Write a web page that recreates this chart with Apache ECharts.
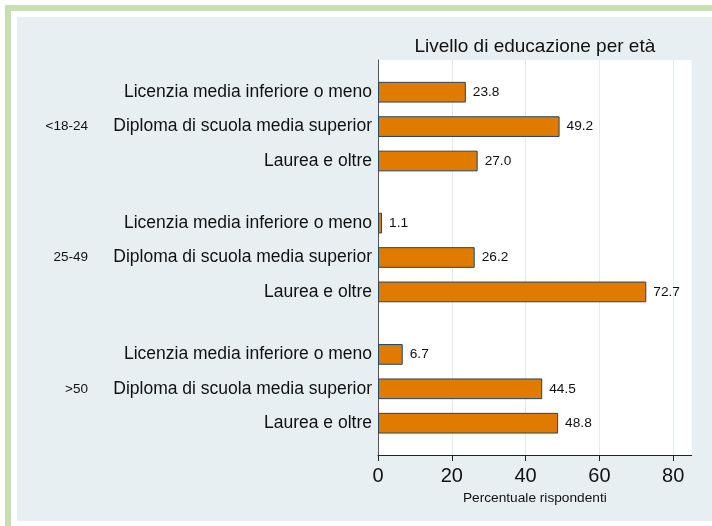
<!DOCTYPE html>
<html>
<head>
<meta charset="utf-8">
<script src="https://cdn.jsdelivr.net/npm/echarts@6/dist/echarts.min.js"></script>
<style>
html,body{margin:0;padding:0;background:#fff;width:712px;height:526px;overflow:hidden;}
#frame{position:absolute;left:5px;top:5px;width:707px;height:521px;border-left:6px solid #c6e0b4;border-top:6px solid #c6e0b4;box-sizing:border-box;}
#panel{position:absolute;left:17px;top:17px;width:695px;height:504px;background:#e8eff2;}
#chart{position:absolute;left:0;top:0;width:712px;height:526px;}
</style>
</head>
<body>
<div id="frame"></div>
<div id="panel"></div>
<div id="chart"></div>
<script>
const groups = ['<18-24', '25-49', '>50'];
const levels = ['Licenzia media inferiore o meno', 'Diploma di scuola media superior', 'Laurea e oltre'];
const values18to24 = [23.8, 49.2, 27.0];
const values25to49 = [1.1, 26.2, 72.7];
const values50plus = [6.7, 44.5, 48.8];
const xTicks = [0, 20, 40, 60, 80];
const xMax = 85;
const groupValues = [values18to24, values25to49, values50plus];

const plotLeft = 378, plotTop = 60, plotW = 313.7, plotH = 395;
const groupTops = [75, 205.9, 337.2];
const groupH = 103.2;
const FONT = 'Liberation Sans, Arial, sans-serif';

const grid = [{left: plotLeft, top: plotTop, width: plotW, height: plotH, show: true, backgroundColor: '#ffffff', borderWidth: 0}];
const xAxis = [{
  gridIndex: 0, type: 'value', min: 0, max: xMax, interval: 20,
  axisLine: {show: true, lineStyle: {color: '#222', width: 1}},
  axisTick: {show: true, length: 6, lineStyle: {color: '#222'}, customValues: xTicks},
  axisLabel: {fontSize: 20, color: '#111', fontFamily: FONT, margin: 11, customValues: xTicks},
  splitLine: {show: true, lineStyle: {color: '#e1ebf0', width: 1}},
  name: 'Percentuale rispondenti', nameLocation: 'middle', nameGap: 26,
  nameTextStyle: {fontSize: 13.7, color: '#111', fontFamily: FONT}
}];
const yAxis = [{
  gridIndex: 0, type: 'value', min: 0, max: 1, position: 'left',
  axisLine: {show: true, lineStyle: {color: '#555', width: 1}},
  axisTick: {show: false}, axisLabel: {show: false}, splitLine: {show: false}
}];
const series = [];

groups.forEach((g, i) => {
  const gi = i + 1;
  grid.push({left: plotLeft, top: groupTops[i], width: plotW, height: groupH, show: false});
  xAxis.push({gridIndex: gi, type: 'value', min: 0, max: xMax, show: false});
  const yMain = yAxis.length;
  yAxis.push({
    gridIndex: gi, type: 'category', data: levels, inverse: true, position: 'left',
    axisLine: {show: false}, axisTick: {show: false}, splitLine: {show: false},
    axisLabel: {fontSize: 17.5, color: '#111', fontFamily: FONT, margin: 6}
  });
  yAxis.push({
    gridIndex: gi, type: 'category', data: ['', g, ''], inverse: true, position: 'left', offset: 282,
    axisLine: {show: false}, axisTick: {show: false}, splitLine: {show: false},
    axisLabel: {fontSize: 13.5, color: '#111', fontFamily: FONT, margin: 8}
  });
  series.push({
    type: 'bar', xAxisIndex: gi, yAxisIndex: yMain, data: groupValues[i], barWidth: 20.7,
    itemStyle: {color: '#e07b00', borderColor: '#1a476f', borderWidth: 1},
    label: {show: true, position: 'right', distance: 7, fontSize: 13.7, color: '#111', fontFamily: FONT,
      formatter: p => p.value.toFixed(1)},
    silent: true, animation: false
  });
});

const chart = echarts.init(document.getElementById('chart'), null, {renderer: 'canvas'});
chart.setOption({
  backgroundColor: 'transparent',
  animation: false,
  title: {
    text: 'Livello di educazione per età', left: plotLeft + plotW / 2, top: 37, textAlign: 'center', padding: 0,
    textStyle: {fontSize: 19, fontWeight: 'normal', color: '#111', fontFamily: FONT}
  },
  grid, xAxis, yAxis, series
});
</script>
</body>
</html>
